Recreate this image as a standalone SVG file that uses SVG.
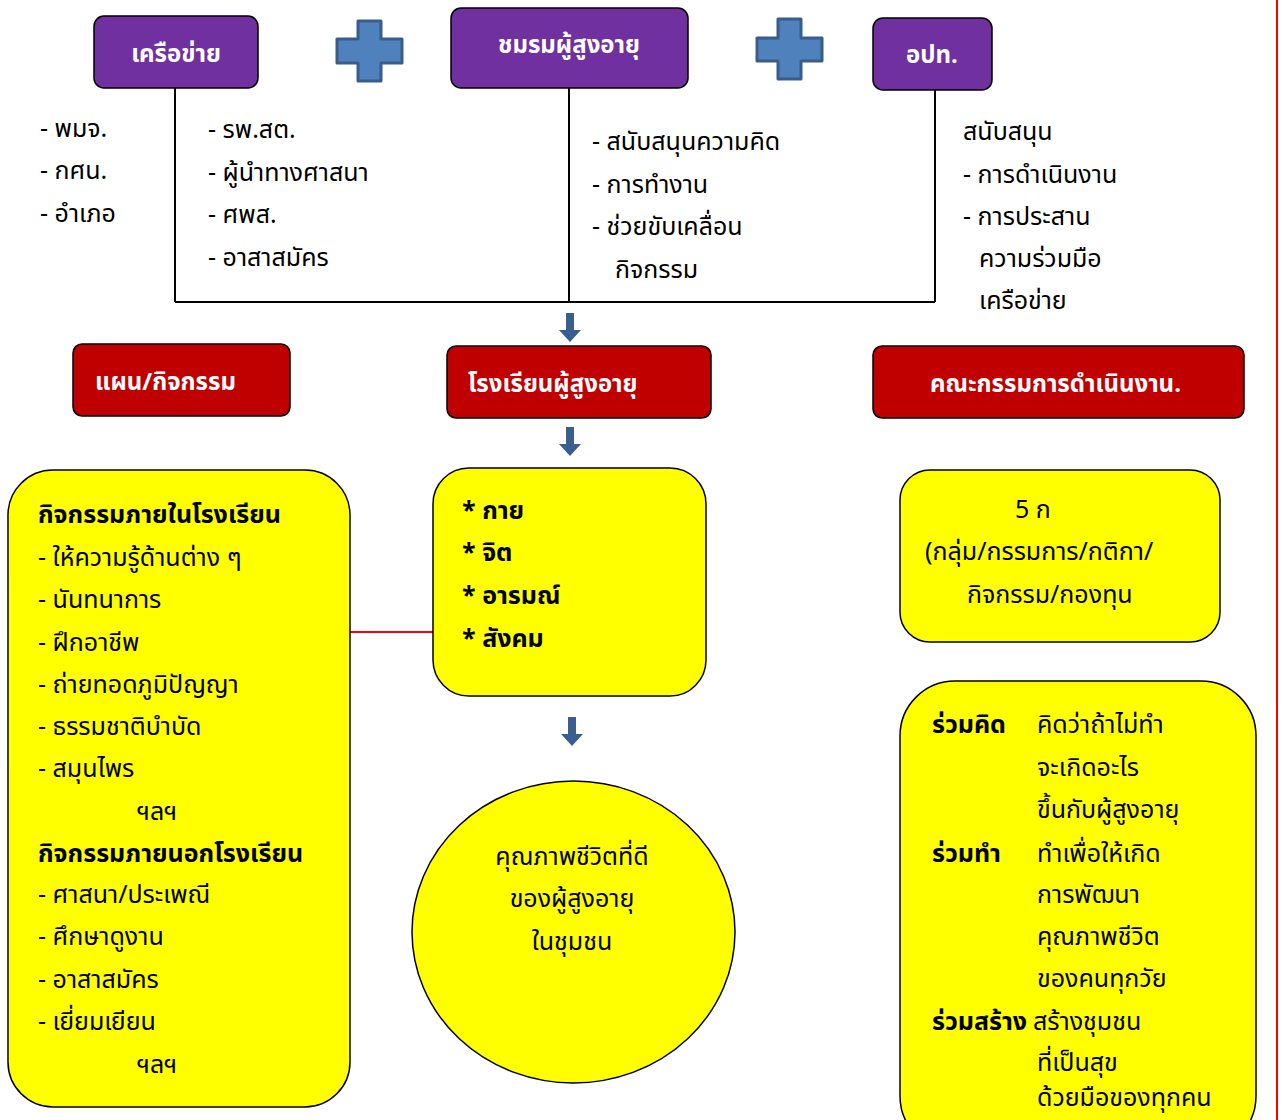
<svg xmlns="http://www.w3.org/2000/svg" xmlns:xlink="http://www.w3.org/1999/xlink" width="1284" height="1120" viewBox="0 0 1284 1120">
<style>
text{font-family:"Noto Sans Thai","Noto Sans","DejaVu Sans",sans-serif;font-size:25px;fill:#000}
.w{fill:#fff;font-weight:bold;font-size:24px}
.b{font-weight:bold}
.c{text-anchor:middle}
.purple{fill:#7030a0;stroke:#000;stroke-width:1.5}
.red{fill:#c00000;stroke:#000;stroke-width:1.5}
.yel{fill:#ffff00;stroke:#000;stroke-width:1.5}
.plus{fill:#4f81bd;stroke:#385d8a;stroke-width:3;stroke-linejoin:round}
.ln{stroke:#000;stroke-width:2;fill:none}
.rl{stroke:#ff0000;stroke-width:2;fill:none}
.arr{fill:#3a5f8e}
</style>
<defs>
<path id="darrow" d="M-4,0 H4 V17 H11 L0,29 L-11,17 H-4 Z"/>
</defs>
<rect width="1284" height="1120" fill="#fff"/>
<line class="rl" x1="1277" y1="0" x2="1277" y2="1120"/>

<g id="connectors">
<path class="ln" d="M175,88 V302 M569,88 V302 M935,90 V302 M175,302 H935"/>
<line class="rl" x1="350" y1="632" x2="433" y2="632"/>
<use href="#darrow" class="arr" x="570" y="313"/>
<use href="#darrow" class="arr" x="570" y="427"/>
<use href="#darrow" class="arr" x="572" y="717"/>
</g>

<g id="plus1"><path class="plus" d="M358,21 H381 V39 H402 V63 H381 V81 H358 V63 H337 V39 H358 Z"/></g>
<g id="plus2"><path class="plus" d="M778,19 H801 V38 H822 V61 H801 V79 H778 V61 H757 V38 H778 Z"/></g>

<g id="network">
<rect class="purple" x="94" y="16" width="164" height="72" rx="10"/>
<text class="w c" x="176" y="62">เครือข่าย</text>
</g>
<g id="club">
<rect class="purple" x="451" y="8" width="237" height="80" rx="10"/>
<text class="w c" x="569" y="53">ชมรมผู้สูงอายุ</text>
</g>
<g id="lao">
<rect class="purple" x="873" y="18" width="119" height="72" rx="10"/>
<text class="w c" x="932" y="63">อปท.</text>
</g>

<g id="network-list1">
<text x="40" y="137">- พมจ.</text>
<text x="40" y="179">- กศน.</text>
<text x="40" y="222">- อำเภอ</text>
</g>
<g id="network-list2">
<text x="208" y="138">- รพ.สต.</text>
<text x="208" y="181">- ผู้นำทางศาสนา</text>
<text x="208" y="223">- ศพส.</text>
<text x="208" y="266">- อาสาสมัคร</text>
</g>
<g id="club-list">
<text x="592" y="150">- สนับสนุนความคิด</text>
<text x="592" y="193">- การทำงาน</text>
<text x="592" y="235">- ช่วยขับเคลื่อน</text>
<text x="615" y="278">กิจกรรม</text>
</g>
<g id="lao-list">
<text x="963" y="140">สนับสนุน</text>
<text x="963" y="183">- การดำเนินงาน</text>
<text x="963" y="225">- การประสาน</text>
<text x="979" y="267">ความร่วมมือ</text>
<text x="979" y="309">เครือข่าย</text>
</g>

<g id="plan">
<rect class="red" x="73" y="344" width="217" height="72" rx="9"/>
<text class="w" x="95" y="390">แผน/กิจกรรม</text>
</g>
<g id="school">
<rect class="red" x="447" y="346" width="264" height="72" rx="9"/>
<text class="w" x="468" y="392">โรงเรียนผู้สูงอายุ</text>
</g>
<g id="committee">
<rect class="red" x="873" y="346" width="371" height="72" rx="9"/>
<text class="w" x="930" y="392">คณะกรรมการดำเนินงาน.</text>
</g>

<g id="activities">
<rect class="yel" x="8" y="470" width="342" height="637" rx="45"/>
<text class="b" x="38" y="523">กิจกรรมภายในโรงเรียน</text>
<text x="38" y="566">- ให้ความรู้ด้านต่าง ๆ</text>
<text x="38" y="608">- นันทนาการ</text>
<text x="38" y="651">- ฝึกอาชีพ</text>
<text x="38" y="693">- ถ่ายทอดภูมิปัญญา</text>
<text x="38" y="735">- ธรรมชาติบำบัด</text>
<text x="38" y="777">- สมุนไพร</text>
<text x="137" y="820">ฯลฯ</text>
<text class="b" x="38" y="862">กิจกรรมภายนอกโรงเรียน</text>
<text x="38" y="903">- ศาสนา/ประเพณี</text>
<text x="38" y="945">- ศึกษาดูงาน</text>
<text x="38" y="988">- อาสาสมัคร</text>
<text x="38" y="1030">- เยี่ยมเยียน</text>
<text x="137" y="1073">ฯลฯ</text>
</g>

<g id="dimensions">
<rect class="yel" x="433" y="468" width="273" height="228" rx="36"/>
<text class="b" x="462" y="519">* กาย</text>
<text class="b" x="462" y="561">* จิต</text>
<text class="b" x="462" y="604">* อารมณ์</text>
<text class="b" x="462" y="647">* สังคม</text>
</g>

<g id="quality">
<ellipse class="yel" cx="573.5" cy="932" rx="161.5" ry="151"/>
<text class="c" x="572" y="865">คุณภาพชีวิตที่ดี</text>
<text class="c" x="572" y="907">ของผู้สูงอายุ</text>
<text class="c" x="572" y="950">ในชุมชน</text>
</g>

<g id="five-k">
<rect class="yel" x="900" y="470" width="320" height="172" rx="30"/>
<text x="1015" y="518">5 ก</text>
<text x="925" y="560">(กลุ่ม/กรรมการ/กติกา/</text>
<text x="967" y="603">กิจกรรม/กองทุน</text>
</g>

<g id="participation">
<rect class="yel" x="900" y="681" width="356" height="470" rx="55"/>
<text class="b" x="932" y="733">ร่วมคิด</text>
<text x="1037" y="733">คิดว่าถ้าไม่ทำ</text>
<text x="1037" y="776">จะเกิดอะไร</text>
<text x="1037" y="818">ขึ้นกับผู้สูงอายุ</text>
<text class="b" x="932" y="862">ร่วมทำ</text>
<text x="1037" y="862">ทำเพื่อให้เกิด</text>
<text x="1037" y="903">การพัฒนา</text>
<text x="1037" y="945">คุณภาพชีวิต</text>
<text x="1037" y="987">ของคนทุกวัย</text>
<text class="b" x="932" y="1030">ร่วมสร้าง</text>
<text x="1033" y="1030">สร้างชุมชน</text>
<text x="1037" y="1071">ที่เป็นสุข</text>
<text x="1037" y="1106">ด้วยมือของทุกคน</text>
</g>
</svg>
